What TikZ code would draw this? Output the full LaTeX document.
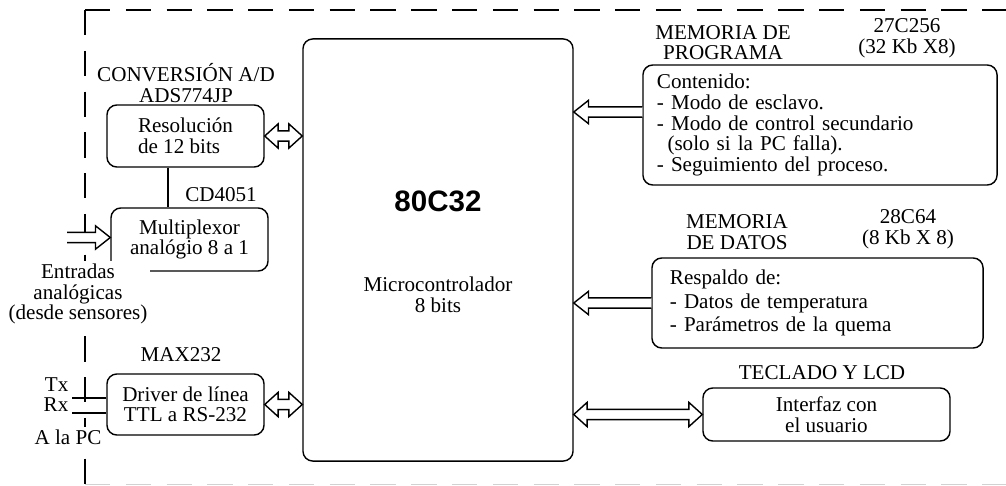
\documentclass[tikz,border=0pt]{standalone}
\usepackage{fontspec}
\setmainfont{Liberation Serif}
\setsansfont{Liberation Sans}
\usetikzlibrary{positioning,calc}

% hollow bus arrow: tip at #1, tail at #2 (same height)
\newcommand{\busarrow}[2]{%
  \draw[bus] let \p1=(#1), \p2=(#2), \p3=($(#1)!10.5pt!(#2)$) in
    (\x2,\y1+3.6pt) -- (\x3,\y1+3.6pt) -- (\x3,\y1+8.3pt) -- (\x1,\y1)
    -- (\x3,\y1-8.3pt) -- (\x3,\y1-3.6pt) -- (\x2,\y1-3.6pt);}
% hollow bus arrow with two heads
\newcommand{\busboth}[2]{%
  \draw[bus] let \p1=(#1), \p2=(#2), \p3=($(#1)!9.5pt!(#2)$),
    \p4=($(#2)!9.5pt!(#1)$) in
    (\x1,\y1) -- (\x3,\y1+8.6pt) -- (\x3,\y1+3.6pt) -- (\x4,\y1+3.6pt)
    -- (\x4,\y1+8.6pt) -- (\x2,\y1) -- (\x4,\y1-8.6pt) -- (\x4,\y1-3.6pt)
    -- (\x3,\y1-3.6pt) -- (\x3,\y1-8.6pt) -- cycle;}

\begin{document}
\begin{tikzpicture}[
  x=0.025cm, y=-0.025cm,
  font=\fontsize{15pt}{14.6pt}\selectfont,
  blk/.style={draw, line width=1pt, rounded corners=7pt, inner sep=2pt},
  lbl/.style={inner sep=1pt, align=center},
  bus/.style={line width=1pt, fill=white},
  wire/.style={line width=1pt},
  frame/.style={line width=1pt, dash pattern=on 18pt off 11pt},
]
\useasboundingbox (0,0) rectangle (1006,486);

% ---- dashed frame ----
\draw[frame] (85,10) -- (1006,10);
\draw[frame] (85,10) -- (85,486);
\draw[frame, gray!35] (85,484.5) -- (1006,484.5);

% ---- microcontroller ----
\node[blk, minimum width=6.75cm, minimum height=10.55cm] (micro) at (438,250) {};
\node[font=\fontsize{21pt}{21pt}\sffamily\bfseries] (chipname) at (438,201) {80C32};
\node[lbl] (chipdesc) at (438,295) {Microcontrolador\\8 bits};

% ---- left column ----
\node[blk, minimum width=3.925cm, minimum height=1.55cm, align=left] (adc)
  at (185.5,136) {Resolución\\de 12 bits};
\node[lbl] (adclbl) at (186,83) {CONVERSIÓN A/D\\ADS774JP};

\node[blk, minimum width=3.925cm, minimum height=1.575cm, align=center] (mux)
  at (189.5,239.5) {Multiplexor\\analógio 8 a 1};
\node[lbl] (muxlbl) at (221,195) {CD4051};
\node[lbl, fill=white, inner sep=2pt] (inlbl) at (78,294)
  {Entradas\\analógicas\\(desde sensores)};

\node[blk, minimum width=3.925cm, minimum height=1.525cm, align=center] (drv)
  at (185.5,404.5) {Driver de línea\\TTL a RS-232};
\node[lbl] (drvlbl) at (181,355) {MAX232};
\node[lbl, anchor=east] (txlbl) at (70,385) {Tx};
\node[lbl, anchor=east] (rxlbl) at (70,405) {Rx};
\node[lbl, fill=white, inner sep=2pt] (pclbl) at (68,437) {A la PC};

% ---- right column ----
\node[blk, minimum width=8.85cm, minimum height=3cm, inner xsep=0.35cm,
      text width=8.15cm, align=left] (prog) at (820,125)
  {Contenido:\\- Modo de esclavo.\\- Modo de control secundario\\
   \hspace*{0.5em}(solo si la PC falla).\\- Seguimiento del proceso.};
\node[lbl] (proglbl) at (723,42.5) {MEMORIA DE\\PROGRAMA};
\node[lbl] (progchip) at (907,38.5) {27C256\\(32 Kb X8)};

\node[blk, minimum width=8.275cm, minimum height=2.25cm, inner xsep=0.45cm,
      text width=7.375cm, align=left, font=\fontsize{15pt}{16.7pt}\selectfont]
  (datos) at (817.5,303)
  {Respaldo de:\\- Datos de temperatura\\- Parámetros de la quema};
\node[lbl] (datlbl) at (737,232) {MEMORIA\\DE DATOS};
\node[lbl] (datchip) at (908,229) {28C64\\(8 Kb X 8)};

\node[blk, minimum width=6.175cm, minimum height=1.325cm, align=center] (ui)
  at (826.5,414.5) {Interfaz con\\el usuario};
\node[lbl] (uilbl) at (822,373) {TECLADO Y LCD};

% ---- connections ----
\coordinate (ain) at (67,237.5);
\coordinate (txw) at (72,398);
\coordinate (rxw) at (72,413);
\coordinate (link) at (168,0);
\coordinate (progbus) at (600,112);

\draw[wire] (adc.south -| link) -- (mux.north -| link);
\busarrow{mux.west |- ain}{ain}
\draw[wire] (txw) -- (txw -| drv.west);
\draw[wire] (rxw) -- (rxw -| drv.west);

\busboth{adc.east}{micro.west |- adc.east}
\busboth{drv.east}{micro.west |- drv.east}
\busarrow{micro.east |- progbus}{prog.west |- progbus}
\busarrow{micro.east |- datos.west}{datos.west}
\busboth{micro.east |- ui.west}{ui.west}

\end{tikzpicture}
\end{document}
